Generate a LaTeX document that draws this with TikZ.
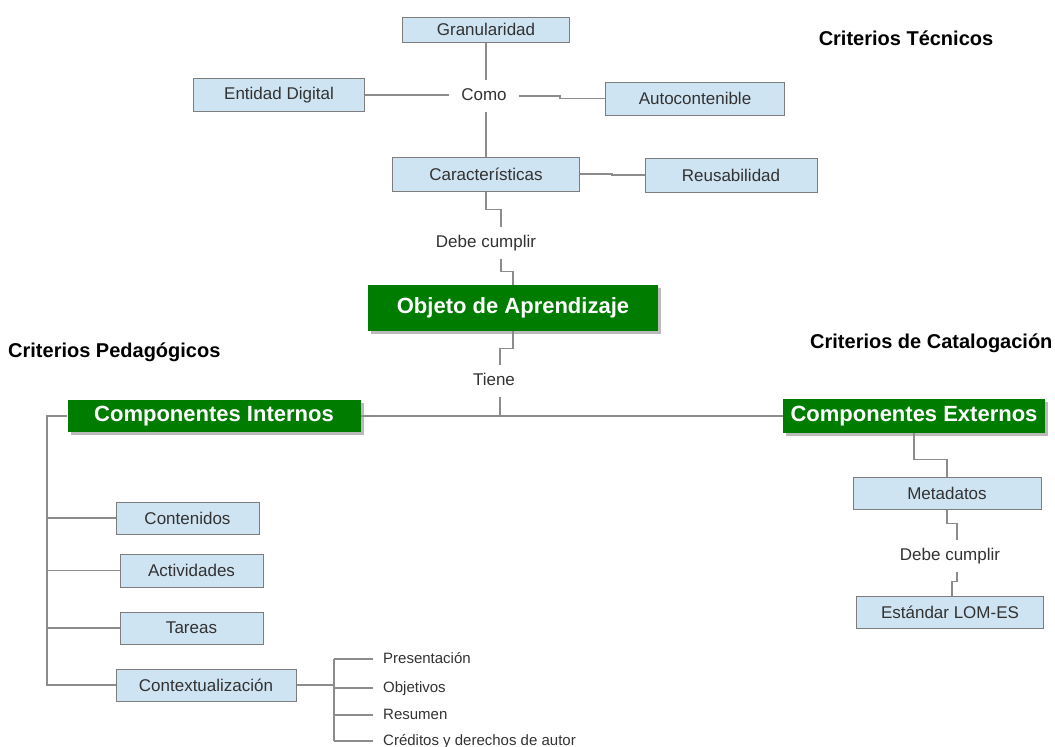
\documentclass[tikz,border=0pt]{standalone}
\usepackage{fontspec}
\setmainfont{Liberation Sans}
\usepackage{xcolor}
\usepackage{tikz}
\usetikzlibrary{shadows}

\definecolor{cajaazul}{RGB}{207,228,242}
\definecolor{bordegris}{RGB}{125,125,125}
\definecolor{lineagris}{RGB}{140,140,140}
\definecolor{verdeoa}{RGB}{0,124,0}
\definecolor{textogris}{RGB}{50,50,50}

\begin{document}
\begin{tikzpicture}[x=1pt,y=-1pt,
  caja/.style={draw=bordegris, fill=cajaazul, text=textogris, line width=1pt, inner sep=0pt, font=\fontsize{17}{20}\selectfont},
  verde/.style={fill=verdeoa, text=white, inner sep=0pt, font=\bfseries\fontsize{22}{26}\selectfont,
    drop shadow={shadow xshift=3pt, shadow yshift=-3pt, fill=gray!60, opacity=0.9}},
  rotulo/.style={text=textogris, inner xsep=12pt, inner ysep=7pt, text height=13pt, text depth=4pt, font=\fontsize{17}{20}\selectfont},
  lista/.style={anchor=west, text=textogris, inner xsep=10pt, inner ysep=0pt, text height=11pt, text depth=3pt, font=\fontsize{15}{18}\selectfont},
  titulo/.style={text=black, inner sep=0pt, font=\bfseries\fontsize{20}{24}\selectfont},
  linea/.style={draw=lineagris, line width=1.3pt}]

\useasboundingbox (0,0) rectangle (1055,747);

% criterios tecnicos
\node [caja, minimum width=167, minimum height=25] (gran) at (486,29.5) {Granularidad};
\node [caja, minimum width=171, minimum height=33] (ent) at (279,95) {Entidad Digital};
\node [rotulo] (como) at (484,96) {Como};
\node [caja, minimum width=179, minimum height=33] (auto) at (695,98.5) {Autocontenible};
\node [caja, minimum width=187, minimum height=34] (carac) at (486,174) {Características};
\node [caja, minimum width=172, minimum height=34] (reus) at (731,175) {Reusabilidad};
\node [rotulo] (debeA) at (486,243) {Debe cumplir};
\node [titulo] (tec) at (906,38) {Criterios Técnicos};

\draw [linea] (gran.south) -- (gran.south |- como.north);
\draw [linea] (carac.north) -- (carac.north |- como.south);
\draw [linea] (ent.east) -- (ent.east -| como.west);
\draw [linea] (como.east) -- ++(41,0) |- (auto.west);
\draw [linea] (carac.east) -- ++(32,0) |- (reus.west);
\draw [linea] (carac.south) -- ++(0,18) -| ([xshift=15pt]debeA.north);

% objeto
\node [verde, minimum width=290, minimum height=46] (objeto) at (513,308) {Objeto de Aprendizaje};
\node [rotulo] (tiene) at (494,381) {Tiene};
\draw [linea] ([xshift=15pt]debeA.south) -- ++(0,13) -| (objeto.north);
\draw [linea] (objeto.south) -- ++(0,17) -| ([xshift=6pt]tiene.north);

% componentes
\node [verde, minimum width=293, minimum height=32] (cint) at (214,416) {Componentes Internos};
\node [verde, minimum width=262, minimum height=34] (cext) at (914,416) {Componentes Externos};
\node [titulo, anchor=west] (ped) at (8,352) {Criterios Pedagógicos};
\node [titulo, anchor=west] (cat) at (810,343) {Criterios de Catalogación};
\draw [linea] (cint.east) -- (cext.west);
\draw [linea] ([xshift=6pt]tiene.south) -- ([xshift=6pt]tiene.south |- cint.east);

% externos
\node [caja, minimum width=188, minimum height=32] (meta) at (947,493) {Metadatos};
\node [rotulo] (debeB) at (950,556) {Debe cumplir};
\node [caja, minimum width=187, minimum height=32] (lom) at (950,612) {Estándar LOM-ES};
\draw [linea] (cext.south) -- ++(0,26) -| (meta.north);
\draw [linea] (meta.south) -- ++(0,14) -| ([xshift=7pt]debeB.north);
\draw [linea] ([xshift=7pt]debeB.south) -- ++(0,10) -| ([xshift=2pt]lom.north);

% internos
\coordinate (eje) at (47,416);
\node [caja, minimum width=143, minimum height=32] (cont) at (187.5,518) {Contenidos};
\node [caja, minimum width=143, minimum height=33] (act) at (191.5,570.5) {Actividades};
\node [caja, minimum width=143, minimum height=32] (tar) at (191.5,628) {Tareas};
\node [caja, minimum width=180, minimum height=32] (ctx) at (206,685) {Contextualización};
\draw [linea] (cint.west) -- (eje) |- (ctx.west);
\foreach \n in {cont,act,tar}
  \draw [linea] (\n.west) -- (\n.west -| eje);

% contextualizacion
\coordinate (rama) at (334,685);
\node [lista] (pres) at (373,659) {Presentación};
\node [lista] (obj) at (373,688) {Objetivos};
\node [lista] (res) at (373,715) {Resumen};
\node [lista] (cred) at (373,741) {Créditos y derechos de autor};
\draw [linea] (ctx.east) -- (rama);
\draw [linea] (rama |- pres.west) -- (rama |- cred.west);
\foreach \n in {pres,obj,res,cred}
  \draw [linea] (rama |- \n.west) -- (\n.west);

\end{tikzpicture}
\end{document}
